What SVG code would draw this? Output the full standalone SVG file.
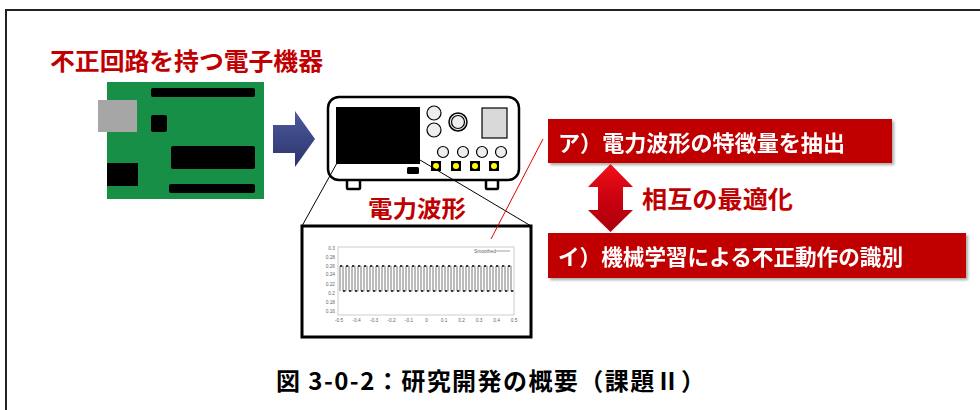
<svg xmlns="http://www.w3.org/2000/svg" width="980" height="410" viewBox="0 0 980 410">
  <defs>
    <style>
      .jp { font-family: "Noto Sans CJK JP", "Noto Sans", sans-serif; font-weight: 700; }
      .red { fill: #C00000; }
      .white { fill: #FFFFFF; }
      .chip { fill: #000000; }
      .body { fill: #FFFFFF; stroke: #000000; stroke-width: 2.5; }
      .knob { fill: #EEEEEE; stroke: #000000; stroke-width: 1.2; }
      .tick { font-family: "Liberation Sans", Arial, sans-serif; font-size: 4.8px; fill: #666666; }
      .zoomline { stroke: #000000; stroke-width: 1; fill: none; }
    </style>
    <linearGradient id="blueArrow" x1="0" y1="0" x2="0" y2="1">
      <stop offset="0" stop-color="#4C5B9C"/>
      <stop offset="1" stop-color="#2B336C"/>
    </linearGradient>
    <linearGradient id="redArrow" x1="0" y1="0" x2="0" y2="1">
      <stop offset="0" stop-color="#F01018"/>
      <stop offset="0.55" stop-color="#C80010"/>
      <stop offset="1" stop-color="#A8000C"/>
    </linearGradient>
    <filter id="shadow" x="-5%" y="-10%" width="110%" height="130%">
      <feGaussianBlur in="SourceAlpha" stdDeviation="1.5"/>
      <feOffset dx="1.5" dy="1.5" result="b"/>
      <feComponentTransfer><feFuncA type="linear" slope="0.35"/></feComponentTransfer>
      <feMerge><feMergeNode/><feMergeNode in="SourceGraphic"/></feMerge>
    </filter>
  </defs>

  <rect x="0" y="0" width="980" height="410" fill="#FFFFFF"/>

  <!-- outer frame (left and top edges) -->
  <path d="M6,410 V10 H980" fill="none" stroke="#222222" stroke-width="2"/>

  <!-- device with hidden circuit -->
  <g id="device">
    <text class="jp red" x="50" y="70" font-size="24" textLength="273" lengthAdjust="spacingAndGlyphs">不正回路を持つ電子機器</text>
    <rect x="107" y="82" width="157" height="117" fill="#178F46"/>
    <rect x="98" y="100" width="39" height="32" fill="#A6A6A6"/>
    <rect class="chip" x="151" y="88" width="104" height="9" rx="2"/>
    <rect class="chip" x="151" y="115" width="16" height="17" rx="2"/>
    <rect class="chip" x="171" y="146" width="84" height="23" rx="2"/>
    <rect class="chip" x="107" y="163" width="31" height="23"/>
    <rect class="chip" x="169" y="184" width="86" height="9" rx="2"/>
  </g>

  <!-- oscilloscope -->
  <g id="oscilloscope">
    <rect class="body" x="347" y="176" width="13" height="13" rx="1"/>
    <rect class="body" x="486" y="176" width="12" height="13" rx="1"/>
    <rect class="body" x="328" y="97" width="191" height="83" rx="11"/>
    <rect class="chip" x="336" y="107" width="84" height="57"/>
    <circle class="knob" cx="434" cy="113" r="7"/>
    <circle class="knob" cx="434" cy="130" r="7"/>
    <circle cx="458" cy="122" r="9" fill="#EEEEEE" stroke="#000000" stroke-width="1.5"/>
    <circle cx="458" cy="122" r="6.5" fill="#EEEEEE" stroke="#000000" stroke-width="1.2"/>
    <rect x="482" y="108" width="25" height="30" fill="#D9D9D9" stroke="#000000" stroke-width="1.2"/>
    <circle class="knob" cx="443" cy="152" r="5.5"/>
    <circle class="knob" cx="463" cy="152" r="5.5"/>
    <circle class="knob" cx="482" cy="152" r="5.5"/>
    <circle class="knob" cx="501" cy="152" r="5.5"/>
    <rect class="chip" x="431" y="161" width="10" height="10"/>
    <rect class="chip" x="451" y="161" width="10" height="10"/>
    <rect class="chip" x="470" y="161" width="10" height="10"/>
    <rect class="chip" x="489" y="161" width="10" height="10"/>
    <circle cx="436" cy="166" r="3" fill="#FFFF00"/>
    <circle cx="456" cy="166" r="3" fill="#FFFF00"/>
    <circle cx="475" cy="166" r="3" fill="#FFFF00"/>
    <circle cx="494" cy="166" r="3" fill="#FFFF00"/>
    <rect class="chip" x="407" y="167" width="12" height="7" rx="1.5"/>
  </g>

  <!-- power waveform panel -->
  <g id="waveform">
    <text class="jp red" x="368" y="217" font-size="23" textLength="98" lengthAdjust="spacingAndGlyphs">電力波形</text>
    <rect x="302" y="226" width="229" height="111" fill="#FFFFFF" stroke="#000000" stroke-width="3"/>
    <rect x="338" y="247" width="176" height="68" fill="none" stroke="#AAAAAA" stroke-width="0.6"/>
    <g class="tick" text-anchor="end">
      <text x="335" y="249.5">0.3</text>
      <text x="335" y="258.5">0.28</text>
      <text x="335" y="267.5">0.26</text>
      <text x="335" y="276">0.24</text>
      <text x="335" y="285.5">0.22</text>
      <text x="335" y="294.5">0.2</text>
      <text x="335" y="303.5">0.18</text>
      <text x="335" y="312.5">0.16</text>
    </g>
    <g class="tick" text-anchor="middle">
      <text x="339" y="322">-0.5</text>
      <text x="356.5" y="322">-0.4</text>
      <text x="374" y="322">-0.3</text>
      <text x="391.5" y="322">-0.2</text>
      <text x="409" y="322">-0.1</text>
      <text x="426.5" y="322">0</text>
      <text x="444" y="322">0.1</text>
      <text x="461.5" y="322">0.2</text>
      <text x="479" y="322">0.3</text>
      <text x="496.5" y="322">0.4</text>
      <text x="514" y="322">0.5</text>
    </g>
    <text class="tick" x="474" y="252.5">Smoothed</text>
    <line x1="496" y1="251" x2="510" y2="251" stroke="#888888" stroke-width="0.8"/>
    <!-- 29 periods of the smoothed square wave, 6 px each -->
    <path d="M340,291
             V266h3V291h3 V266h3V291h3 V266h3V291h3 V266h3V291h3 V266h3V291h3
             V266h3V291h3 V266h3V291h3 V266h3V291h3 V266h3V291h3 V266h3V291h3
             V266h3V291h3 V266h3V291h3 V266h3V291h3 V266h3V291h3 V266h3V291h3
             V266h3V291h3 V266h3V291h3 V266h3V291h3 V266h3V291h3 V266h3V291h3
             V266h3V291h3 V266h3V291h3 V266h3V291h3 V266h3V291h3 V266h3V291h3
             V266h3V291h3 V266h3V291h3 V266h3V291h3 V266h3V291h3"
          fill="none" stroke="#555555" stroke-width="0.8"/>
    <!-- darker plateaus of the sampled points -->
    <path d="M340,266h2 m4,0h2 m4,0h2 m4,0h2 m4,0h2 m4,0h2 m4,0h2 m4,0h2 m4,0h2 m4,0h2 m4,0h2 m4,0h2 m4,0h2 m4,0h2 m4,0h2 m4,0h2 m4,0h2 m4,0h2 m4,0h2 m4,0h2 m4,0h2 m4,0h2 m4,0h2 m4,0h2 m4,0h2 m4,0h2 m4,0h2 m4,0h2 m4,0h2
             M343,291h2 m4,0h2 m4,0h2 m4,0h2 m4,0h2 m4,0h2 m4,0h2 m4,0h2 m4,0h2 m4,0h2 m4,0h2 m4,0h2 m4,0h2 m4,0h2 m4,0h2 m4,0h2 m4,0h2 m4,0h2 m4,0h2 m4,0h2 m4,0h2 m4,0h2 m4,0h2 m4,0h2 m4,0h2 m4,0h2 m4,0h2 m4,0h2 m4,0h2"
          fill="none" stroke="#111111" stroke-width="1.6"/>
  </g>

  <!-- feature extraction box -->
  <g id="feature-extraction" filter="url(#shadow)">
    <rect x="548" y="119" width="344" height="44" class="red"/>
    <text class="jp white" x="558" y="151" font-size="22" textLength="287" lengthAdjust="spacingAndGlyphs">ア）電力波形の特徴量を抽出</text>
  </g>

  <!-- classification box -->
  <g id="classification" filter="url(#shadow)">
    <rect x="548" y="233" width="418" height="45" class="red"/>
    <text class="jp white" x="558" y="265" font-size="22" textLength="345" lengthAdjust="spacingAndGlyphs">イ）機械学習による不正動作の識別</text>
  </g>

  <g id="mutual-label">
    <text class="jp red" x="642" y="208" font-size="24" textLength="151" lengthAdjust="spacingAndGlyphs">相互の最適化</text>
  </g>

  <!-- connectors -->
  <g id="connectors">
    <path d="M273,125 H295 V111 L315,139 L295,167 V153 H273 Z" fill="url(#blueArrow)"/>
    <line class="zoomline" x1="337" y1="163" x2="302" y2="226"/>
    <line class="zoomline" x1="420" y1="160" x2="531" y2="226"/>
    <line x1="543" y1="139" x2="491" y2="239" stroke="#E00000" stroke-width="1"/>
    <path d="M610.5,164 L633,187 H623 V210 H633 L610.5,232 L588,210 H598 V187 H588 Z" fill="url(#redArrow)"/>
  </g>

  <!-- caption -->
  <text class="jp" x="276" y="390" font-size="24" fill="#000000" textLength="429" lengthAdjust="spacing">図 3-0-2：研究開発の概要（課題Ⅱ）</text>
</svg>
